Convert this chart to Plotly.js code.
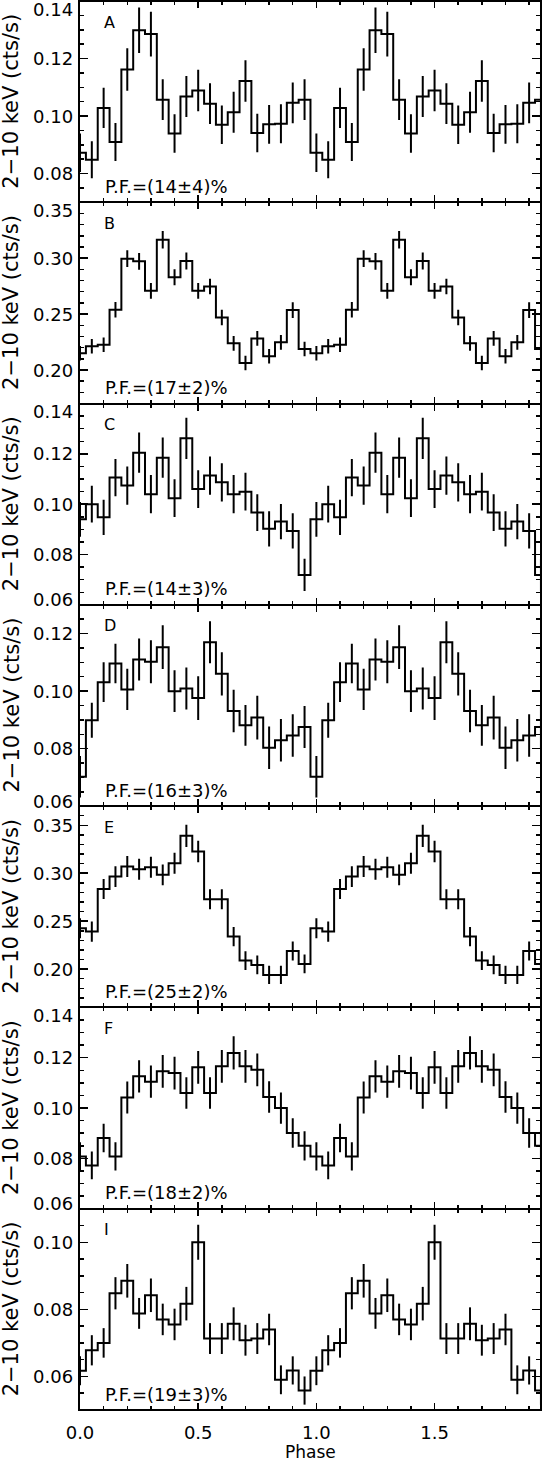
<!DOCTYPE html>
<html>
<head>
<meta charset="utf-8">
<script src="https://cdn.plot.ly/plotly-3.0.1.min.js"></script>
<style>
  body { margin: 0; background: #fff; }
  #chart { width: 542px; height: 1462px; }
</style>
</head>
<body>
<div id="chart"></div>
<script>
// panels from top to bottom
var panelNames = ['A', 'B', 'C', 'D', 'E', 'F', 'I'];
var pfText = ['P.F.=(14\u00b14)%', 'P.F.=(17\u00b12)%', 'P.F.=(14\u00b13)%', 'P.F.=(16\u00b13)%',
              'P.F.=(25\u00b12)%', 'P.F.=(18\u00b12)%', 'P.F.=(19\u00b13)%'];
var yTitle = '2\u221210 keV (cts/s)';
var xTitle = 'Phase';

// one pulse cycle, 20 phase bins (centres 0.00, 0.05 ... 0.95), shown twice
var rateA = [0.0872, 0.0848, 0.1028, 0.0910, 0.1162, 0.1298, 0.1285, 0.1057, 0.0939, 0.1068,
             0.1089, 0.1043, 0.0970, 0.1013, 0.1122, 0.0941, 0.0971, 0.0973, 0.1046, 0.1057];
var errA  = [0.0067, 0.0064, 0.0070, 0.0066, 0.0074, 0.0079, 0.0078, 0.0071, 0.0067, 0.0071,
             0.0072, 0.0071, 0.0067, 0.0071, 0.0072, 0.0067, 0.0067, 0.0068, 0.0071, 0.0071];

var rateB = [0.2150, 0.2212, 0.2227, 0.2539, 0.2996, 0.2972, 0.2708, 0.3165, 0.2830, 0.2975,
             0.2708, 0.2747, 0.2470, 0.2239, 0.2063, 0.2283, 0.2123, 0.2248, 0.2536, 0.2188];
var errB  = [0.0065, 0.0065, 0.0065, 0.0070, 0.0075, 0.0075, 0.0070, 0.0078, 0.0072, 0.0075,
             0.0070, 0.0070, 0.0070, 0.0066, 0.0065, 0.0066, 0.0065, 0.0066, 0.0070, 0.0065];

var rateC = [0.0940, 0.1000, 0.0948, 0.1106, 0.1074, 0.1205, 0.1040, 0.1185, 0.1024, 0.1262,
             0.1060, 0.1114, 0.1087, 0.1040, 0.1050, 0.0967, 0.0902, 0.0931, 0.0894, 0.0719];
var errC  = [0.0069, 0.0073, 0.0070, 0.0074, 0.0076, 0.0080, 0.0076, 0.0080, 0.0075, 0.0082,
             0.0075, 0.0076, 0.0076, 0.0076, 0.0075, 0.0073, 0.0070, 0.0070, 0.0070, 0.0064];

var rateD = [0.0702, 0.0899, 0.1031, 0.1096, 0.1006, 0.1110, 0.1102, 0.1153, 0.1000, 0.1009,
             0.0976, 0.1170, 0.1060, 0.0931, 0.0881, 0.0908, 0.0803, 0.0829, 0.0846, 0.0875];
var errD  = [0.0072, 0.0061, 0.0069, 0.0069, 0.0072, 0.0073, 0.0075, 0.0076, 0.0073, 0.0073,
             0.0076, 0.0073, 0.0075, 0.0074, 0.0071, 0.0076, 0.0074, 0.0074, 0.0074, 0.0073];

var rateE = [0.2426, 0.2391, 0.2836, 0.2965, 0.3070, 0.3042, 0.3063, 0.2983, 0.3104, 0.3390,
             0.3226, 0.2728, 0.2728, 0.2339, 0.2089, 0.2043, 0.1939, 0.1939, 0.2189, 0.2054];
var errE  = [0.0105, 0.0105, 0.0105, 0.0108, 0.0110, 0.0110, 0.0110, 0.0108, 0.0110, 0.0115,
             0.0112, 0.0105, 0.0105, 0.0100, 0.0098, 0.0098, 0.0095, 0.0095, 0.0100, 0.0098];

var rateF = [0.0808, 0.0772, 0.0881, 0.0808, 0.1042, 0.1126, 0.1105, 0.1146, 0.1139, 0.1060,
             0.1162, 0.1060, 0.1166, 0.1219, 0.1166, 0.1152, 0.1044, 0.1000, 0.0901, 0.0850];
var errF  = [0.0056, 0.0055, 0.0057, 0.0056, 0.0064, 0.0064, 0.0064, 0.0065, 0.0065, 0.0063,
             0.0065, 0.0063, 0.0065, 0.0066, 0.0065, 0.0065, 0.0063, 0.0062, 0.0059, 0.0058];

var rateI = [0.0617, 0.0678, 0.0700, 0.0848, 0.0885, 0.0788, 0.0842, 0.0770, 0.0755, 0.0817,
             0.1000, 0.0713, 0.0713, 0.0757, 0.0708, 0.0713, 0.0740, 0.0590, 0.0618, 0.0558];
var errI  = [0.0043, 0.0045, 0.0044, 0.0048, 0.0050, 0.0046, 0.0050, 0.0047, 0.0047, 0.0050,
             0.0052, 0.0046, 0.0046, 0.0049, 0.0046, 0.0046, 0.0047, 0.0043, 0.0042, 0.0042];

// axes
var xRange = [0, 1.946];
var xTicks = [0.0, 0.5, 1.0, 1.5];
var yRanges = [[0.07, 0.14], [0.17, 0.35], [0.06, 0.14], [0.06, 0.13],
               [0.16, 0.37], [0.06, 0.14], [0.05, 0.11]];
var yTicks = [[0.08, 0.10, 0.12, 0.14], [0.20, 0.25, 0.30, 0.35], [0.06, 0.08, 0.10, 0.12, 0.14],
              [0.06, 0.08, 0.10, 0.12], [0.20, 0.25, 0.30, 0.35], [0.06, 0.08, 0.10, 0.12, 0.14],
              [0.06, 0.08, 0.10]];
var yMinor = [0.005, 0.01, 0.005, 0.005, 0.01, 0.005, 0.005];

var rates = [rateA, rateB, rateC, rateD, rateE, rateF, rateI];
var errs = [errA, errB, errC, errD, errE, errF, errI];

var nbin = rateA.length;
var nPanel = panelNames.length;
var h = 1 / nPanel;
var fnt = 'DejaVu Sans';

var data = [];
var annotations = [];
var layout = {
  width: 542,
  height: 1462,
  margin: {l: 80, r: 2, t: 1, b: 52},
  paper_bgcolor: 'white',
  plot_bgcolor: 'white',
  showlegend: false,
  font: {family: fnt, size: 18, color: 'black'},
  // outer top / bottom frame, the x lines are thin so the shared edges stay 2px
  shapes: [
    {type: 'line', xref: 'paper', yref: 'paper', x0: 0, x1: 1, y0: 1, y1: 1, line: {color: 'black', width: 2}},
    {type: 'line', xref: 'paper', yref: 'paper', x0: 0, x1: 1, y0: 0, y1: 0, line: {color: 'black', width: 2}}
  ]
};

for (var i = 0; i < nPanel; i++) {
  var n = i + 1;
  var xId = n == 1 ? 'x' : 'x' + n;
  var yId = n == 1 ? 'y' : 'y' + n;

  // wrap one bin on each side so the steps reach the frame
  var xs = [], ys = [], es = [];
  for (var k = -1; k <= 2 * nbin; k++) {
    var j = ((k % nbin) + nbin) % nbin;
    xs.push(k / nbin);
    ys.push(rates[i][j]);
    es.push(errs[i][j]);
  }
  data.push({
    x: xs, y: ys, xaxis: xId, yaxis: yId,
    mode: 'lines',
    line: {shape: 'hvh', color: 'black', width: 2},
    error_y: {type: 'data', array: es, visible: true, width: 0, thickness: 2, color: 'black'},
    hoverinfo: 'skip'
  });

  layout['xaxis' + (n == 1 ? '' : n)] = {
    domain: [0, 1], anchor: yId, range: xRange,
    showline: true, linecolor: 'black', linewidth: 1, mirror: 'ticks',
    ticks: 'inside', ticklen: 7, tickwidth: 1.5, tickcolor: 'black',
    tick0: xTicks[0], dtick: xTicks[1] - xTicks[0],
    minor: {ticks: 'inside', ticklen: 4, tickwidth: 1.5, tickcolor: 'black', dtick: 0.1},
    showgrid: false, zeroline: false,
    showticklabels: n == nPanel, tickformat: '.1f', ticklabelstandoff: 6,
    tickfont: {family: fnt, size: 18, color: 'black'}
  };
  layout['yaxis' + (n == 1 ? '' : n)] = {
    domain: [1 - (i + 1) * h, 1 - i * h], anchor: xId, range: yRanges[i],
    showline: true, linecolor: 'black', linewidth: 2, mirror: 'ticks',
    ticks: 'inside', ticklen: 8, tickwidth: 1.5, tickcolor: 'black',
    tick0: 0, dtick: yTicks[i][1] - yTicks[i][0],
    minor: {ticks: 'inside', ticklen: 4, tickwidth: 1.5, tickcolor: 'black', dtick: yMinor[i]},
    showgrid: false, zeroline: false, showticklabels: false
  };

  // y tick labels, pulled inside the panel at the edges like the original
  yTicks[i].forEach(function (v) {
    var lo = yRanges[i][0], hi = yRanges[i][1];
    var shift = 0;
    if (Math.abs(v - hi) < 1e-9) shift = -8;
    if (Math.abs(v - lo) < 1e-9) shift = 5;
    annotations.push({
      xref: 'paper', x: 0, xanchor: 'right', xshift: -5,
      yref: yId, y: v, yanchor: 'middle', yshift: shift,
      text: v.toFixed(2), showarrow: false, font: {size: 18}
    });
  });

  annotations.push({
    xref: 'paper', x: 0, xanchor: 'center', xshift: -69,
    yref: yId + ' domain', y: 0.5, yanchor: 'middle',
    text: yTitle, textangle: -90, showarrow: false, font: {size: 21}
  });
  annotations.push({
    xref: 'paper', x: 0, xanchor: 'left', xshift: 22,
    yref: yId + ' domain', y: 1, yanchor: 'middle', yshift: -21,
    text: panelNames[i], showarrow: false, font: {size: 16}
  });
  annotations.push({
    xref: 'paper', x: 0, xanchor: 'left', xshift: 23,
    yref: yId + ' domain', y: 0, yanchor: 'middle', yshift: 16,
    text: pfText[i], showarrow: false, font: {size: 18}
  });
}

annotations.push({
  xref: 'paper', x: 0.5, xanchor: 'center',
  yref: 'paper', y: 0, yanchor: 'middle', yshift: -42,
  text: xTitle, showarrow: false, font: {size: 17}
});
layout.annotations = annotations;

Plotly.newPlot('chart', data, layout, {displayModeBar: false, staticPlot: true});
</script>
</body>
</html>
